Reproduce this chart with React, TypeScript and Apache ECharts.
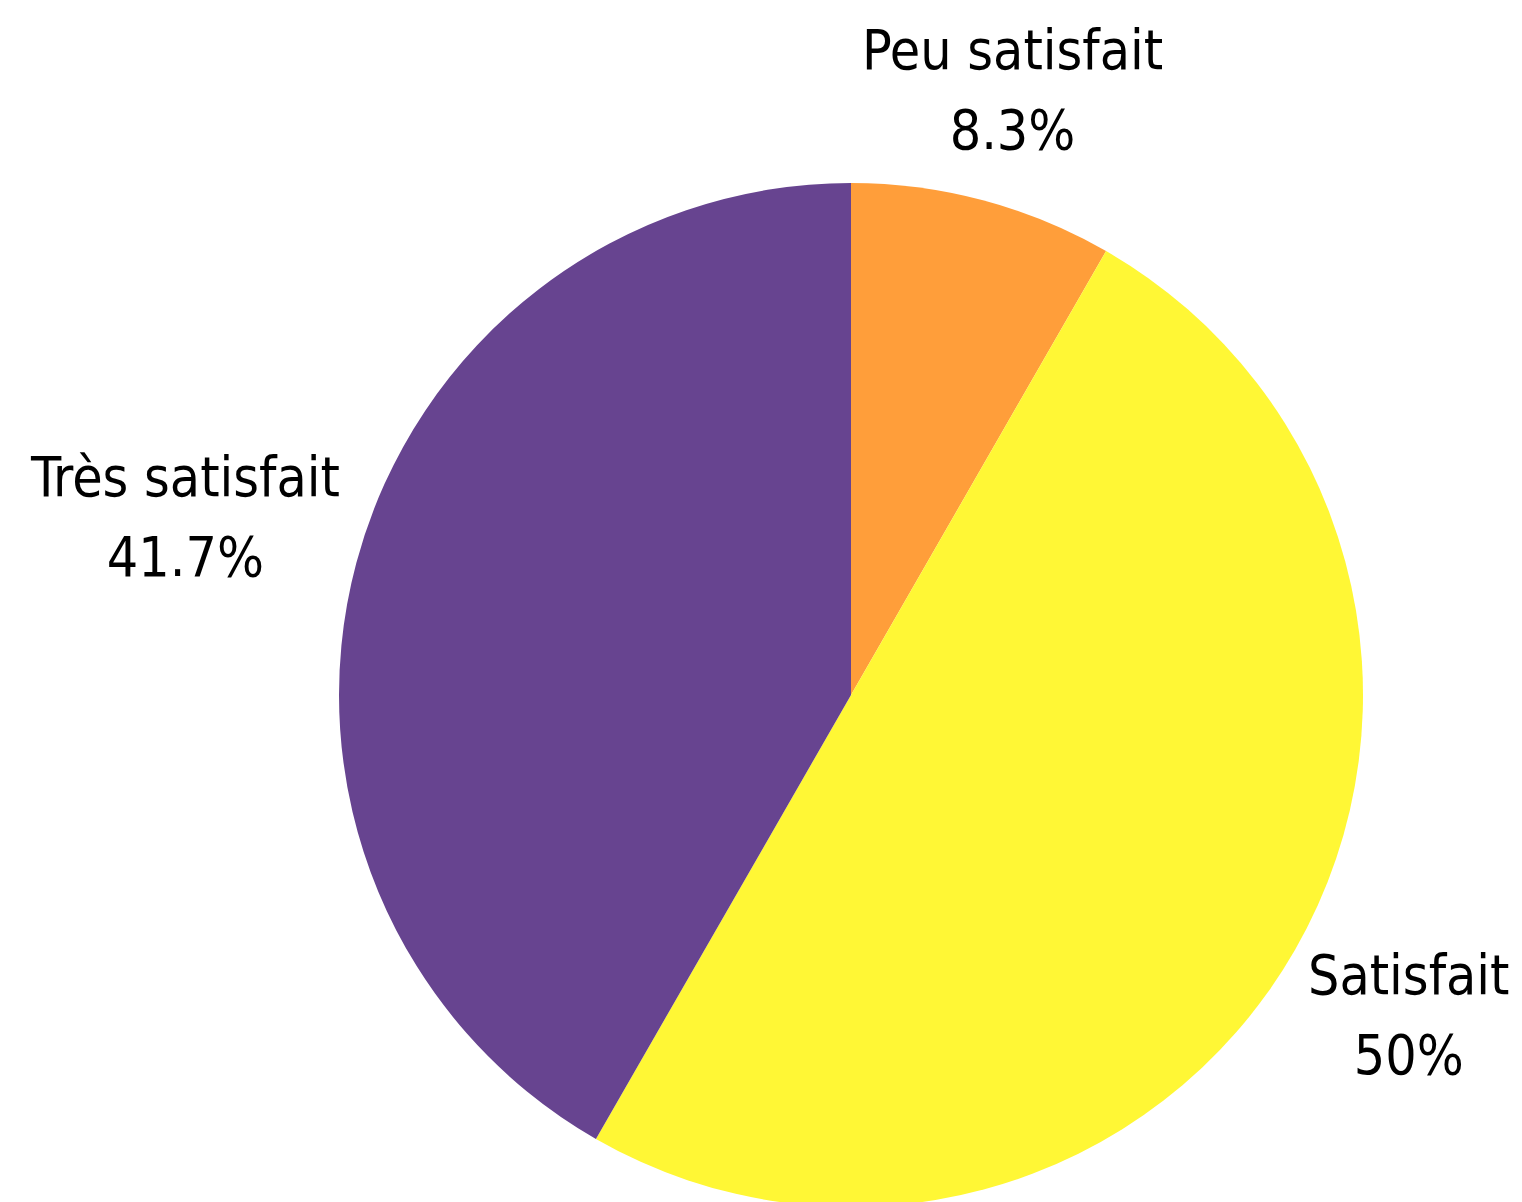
import React, { useEffect, useRef } from "react";
import * as echarts from "echarts";

const categories = ["Peu satisfait", "Satisfait", "Très satisfait"];
const values = [8.3, 50, 41.7];
const colors = ["#FF9E3A", "#FFF735", "#674490"];

const CX = 851;
const CY = 695;
const R = 512;
const GAP = 10;
const K = 0.85;

export default function App() {
  const ref = useRef<HTMLDivElement>(null);
  useEffect(() => {
    if (!ref.current) return;
    const chart = echarts.init(ref.current, null, { renderer: "svg" });
    const total = values.reduce((a, b) => a + b, 0);
    const mids: number[] = [];
    let cum = 0;
    values.forEach((v) => {
      mids.push(((90 - (360 * (cum + v / 2)) / total) * Math.PI) / 180);
      cum += v;
    });
    chart.setOption({
      animation: false,
      series: [
        {
          type: "pie",
          center: [CX, CY],
          radius: R,
          startAngle: 90,
          clockwise: true,
          data: categories.map((c, i) => ({
            name: c,
            value: values[i],
            itemStyle: { color: colors[i] },
          })),
          label: {
            show: true,
            position: "outside",
            formatter: (p: any) => `${p.name}\n${p.value}%`,
            fontFamily: "'DejaVu Sans Condensed', 'DejaVu Sans', sans-serif",
            fontSize: 55,
            lineHeight: 80,
            color: "#000",
            align: "center",
            overflow: "none",
          },
          labelLine: { show: false },
          labelLayout: (params: any) => {
            const a = mids[params.dataIndex];
            const w = params.labelRect.width;
            const h = params.labelRect.height;
            const c = Math.cos(a);
            const s = Math.sin(a);
            const d = R + GAP + (w / 2) * Math.abs(c) + K * (h / 2) * Math.abs(s);
            return {
              x: CX + d * c,
              y: CY - d * s,
              align: "center",
              verticalAlign: "middle",
            };
          },
          emphasis: { disabled: true },
        },
      ],
    });
    return () => chart.dispose();
  }, []);
  return (
    <div
      ref={ref}
      style={{ position: "absolute", left: 0, top: 0, width: 1522, height: 1202, background: "#fff" }}
    />
  );
}
